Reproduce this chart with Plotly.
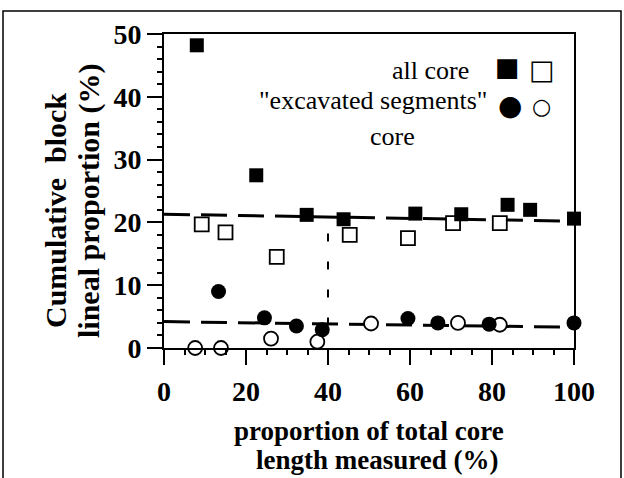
import plotly.graph_objects as go

# ---- data ----
all_core_filled_x = [8.0, 22.5, 34.8, 43.8, 61.3, 72.5, 83.8, 89.3, 100.0]
all_core_filled_y = [48.2, 27.5, 21.2, 20.5, 21.4, 21.3, 22.8, 22.0, 20.6]
all_core_open_x = [9.2, 15.0, 27.5, 45.3, 59.5, 70.5, 81.9]
all_core_open_y = [19.7, 18.4, 14.5, 18.0, 17.5, 19.9, 19.9]
exc_filled_x = [13.3, 24.5, 32.3, 38.6, 59.5, 66.8, 79.3, 100.0]
exc_filled_y = [9.0, 4.8, 3.5, 2.9, 4.7, 4.0, 3.8, 4.0]
exc_open_x = [7.6, 13.9, 26.1, 37.4, 50.5, 71.7, 81.9]
exc_open_y = [0.0, 0.0, 1.5, 1.0, 3.9, 4.0, 3.7]

upper_fit_x = [0, 100]
upper_fit_y = [21.3, 20.2]
lower_fit_x = [0, 100]
lower_fit_y = [4.2, 3.3]
threshold_x = [40, 40]
threshold_y = [3.6, 20.7]

x_ticks = [0, 20, 40, 60, 80, 100]
y_ticks = [0, 10, 20, 30, 40, 50]

SERIF = "Liberation Serif, Times New Roman, serif"

W, H = 624, 478
L, R, T, B = 164, 50, 34, 130
PW, PH = W - L - R, H - T - B


def px(sx):
    return (sx - L) / PW


def py(sy):
    return (H - B - sy) / PH


fig = go.Figure()

fig.add_trace(go.Scatter(x=upper_fit_x, y=upper_fit_y, mode="lines",
                         line=dict(color="black", width=3, dash="26px,11px"),
                         cliponaxis=False, showlegend=False))
fig.add_trace(go.Scatter(x=lower_fit_x, y=lower_fit_y, mode="lines",
                         line=dict(color="black", width=3, dash="26px,11px"),
                         cliponaxis=False, showlegend=False))
fig.add_trace(go.Scatter(x=threshold_x, y=threshold_y, mode="lines",
                         line=dict(color="black", width=2, dash="8px,20px"),
                         cliponaxis=False, showlegend=False))

fig.add_trace(go.Scatter(x=all_core_open_x, y=all_core_open_y, mode="markers",
                         marker=dict(symbol="square", size=14, color="white",
                                     line=dict(color="black", width=1.8)),
                         cliponaxis=False, showlegend=False))
fig.add_trace(go.Scatter(x=all_core_filled_x, y=all_core_filled_y, mode="markers",
                         marker=dict(symbol="square", size=14, color="black",
                                     line=dict(color="black", width=0)),
                         cliponaxis=False, showlegend=False))
fig.add_trace(go.Scatter(x=exc_open_x, y=exc_open_y, mode="markers",
                         marker=dict(symbol="circle", size=14, color="white",
                                     line=dict(color="black", width=1.8)),
                         cliponaxis=False, showlegend=False))
fig.add_trace(go.Scatter(x=exc_filled_x, y=exc_filled_y, mode="markers",
                         marker=dict(symbol="circle", size=15, color="black",
                                     line=dict(color="black", width=0)),
                         cliponaxis=False, showlegend=False))

axis_common = dict(showline=True, linecolor="black", linewidth=2, mirror=True,
                   ticks="outside", tickwidth=2, tickcolor="black", ticklen=15,
                   showgrid=False, zeroline=False,
                   tickfont=dict(family=SERIF, size=28, color="black", weight="bold"))

fig.update_xaxes(range=[0, 100], tickvals=x_ticks, ticktext=[str(v) for v in x_ticks],
                 ticklabelstandoff=2,
                 minor=dict(ticks="outside", dtick=5, ticklen=5, tickwidth=1.5,
                            tickcolor="black", showgrid=False),
                 **axis_common)
fig.update_yaxes(range=[0, 50], tickvals=y_ticks, ticktext=[str(v) for v in y_ticks],
                 minor=dict(ticks="outside", dtick=2, ticklen=5, tickwidth=1.5,
                            tickcolor="black", showgrid=False),
                 **axis_common)

# Axis titles as annotations for precise placement
fig.add_annotation(xref="paper", yref="paper", x=px(369), y=py(431),
                   text="<b>proportion of total core</b>", showarrow=False,
                   font=dict(family=SERIF, size=27, color="black"),
                   xanchor="center", yanchor="middle")
fig.add_annotation(xref="paper", yref="paper", x=px(377), y=py(460),
                   text="<b>length measured (%)</b>", showarrow=False,
                   font=dict(family=SERIF, size=27, color="black"),
                   xanchor="center", yanchor="middle")
fig.add_annotation(xref="paper", yref="paper", x=px(55), y=py(211),
                   text="<b>Cumulative  block</b>", showarrow=False, textangle=-90,
                   font=dict(family=SERIF, size=30, color="black"),
                   xanchor="center", yanchor="middle")
fig.add_annotation(xref="paper", yref="paper", x=px(89), y=py(201),
                   text="<b>lineal proportion (%)</b>", showarrow=False, textangle=-90,
                   font=dict(family=SERIF, size=30, color="black"),
                   xanchor="center", yanchor="middle")

# In-plot legend text
fig.add_annotation(xref="paper", yref="paper", x=px(471), y=py(70),
                   text="all core", showarrow=False,
                   font=dict(family=SERIF, size=26, color="black"),
                   xanchor="right", yanchor="middle")
fig.add_annotation(xref="paper", yref="paper", x=px(489), y=py(101),
                   text="\"excavated segments\"", showarrow=False,
                   font=dict(family=SERIF, size=26, color="black"),
                   xanchor="right", yanchor="middle")
fig.add_annotation(xref="paper", yref="paper", x=px(392), y=py(136),
                   text="core", showarrow=False,
                   font=dict(family=SERIF, size=26, color="black"),
                   xanchor="center", yanchor="middle")
legend_glyphs = [("■", 507, 67, 26), ("□", 542, 69, 27),
                 ("●", 510, 106, 28), ("○", 541, 107, 22)]
for g, gx, gy, gs in legend_glyphs:
    fig.add_annotation(xref="paper", yref="paper", x=px(gx), y=py(gy), text=g,
                       showarrow=False,
                       font=dict(family="DejaVu Sans", size=gs, color="black"),
                       xanchor="center", yanchor="middle")

# Outer frame of the scanned figure
fig.add_shape(type="rect", xref="paper", yref="paper",
              x0=px(3), x1=px(621), y0=py(500), y1=py(11),
              line=dict(color="black", width=1.5))

fig.update_layout(width=W, height=H,
                  margin=dict(l=L, r=R, t=T, b=B),
                  paper_bgcolor="white", plot_bgcolor="white",
                  showlegend=False)

fig.write_html("out.html",
               config={"displayModeBar": False},
               post_script="document.body.style.margin='0px';")
